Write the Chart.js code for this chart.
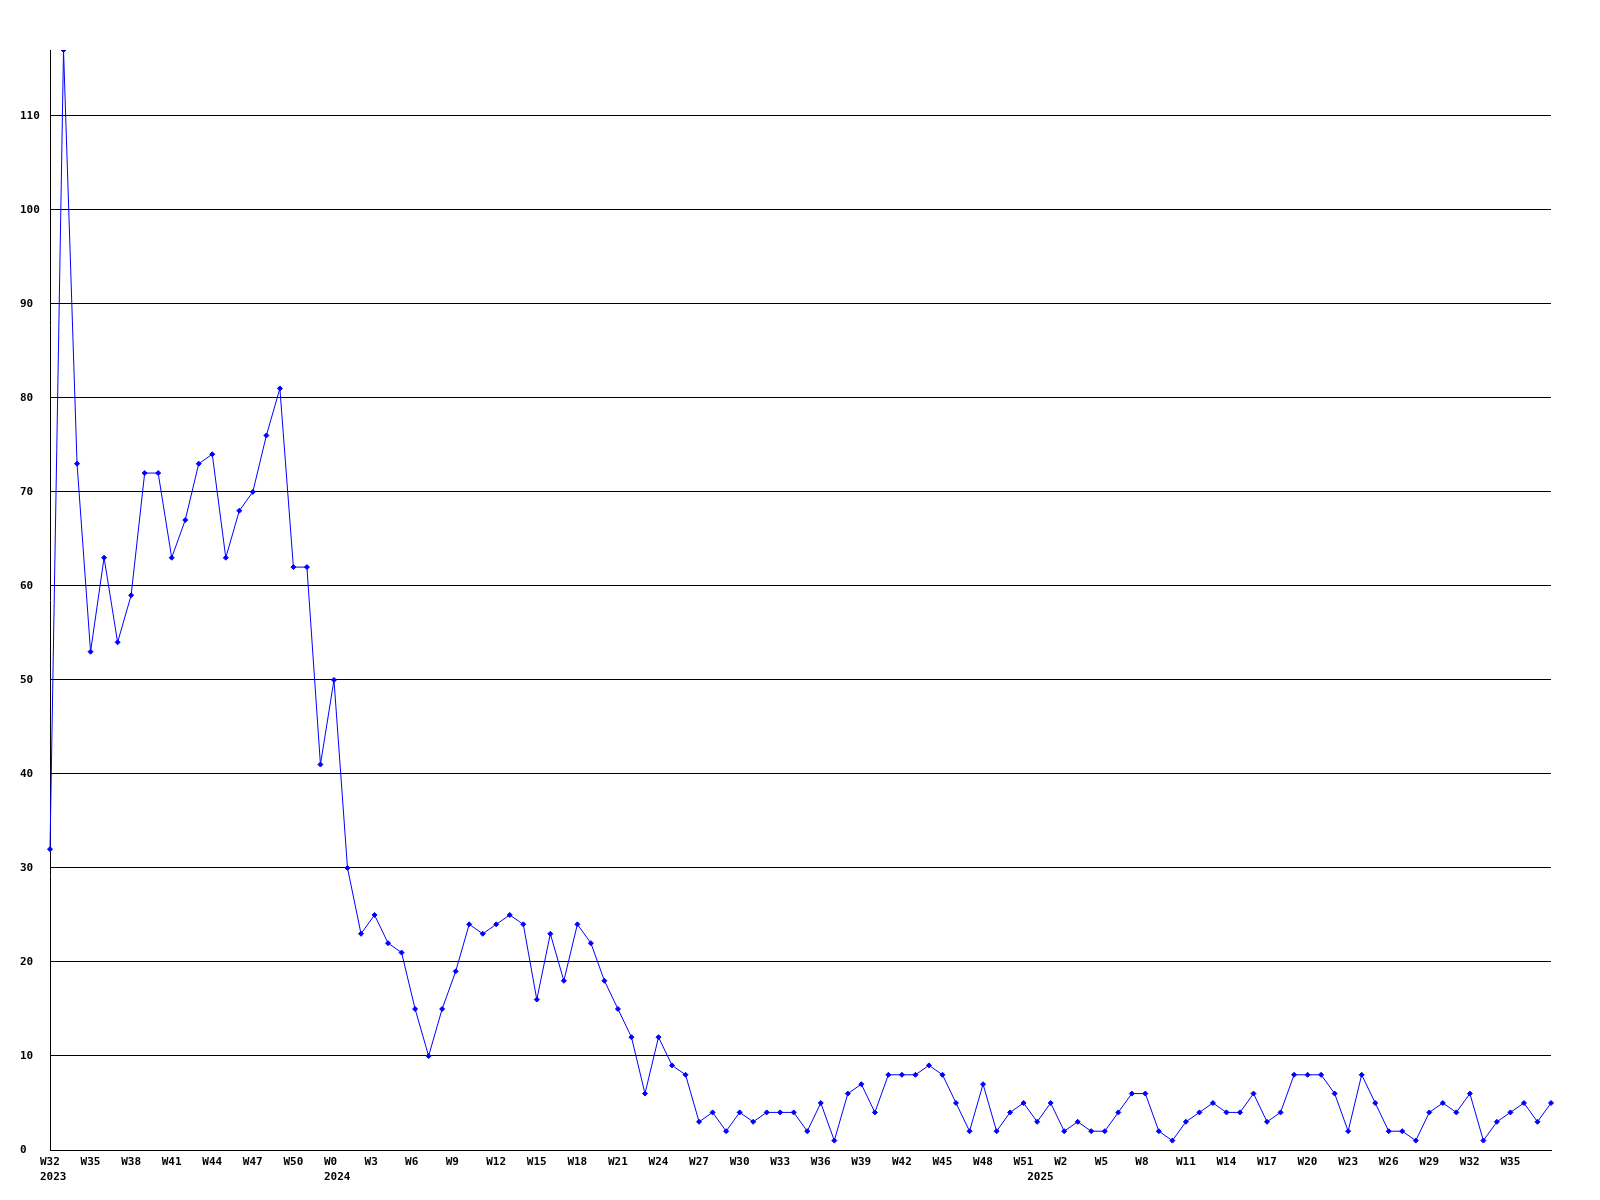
<!DOCTYPE html>
<html>
<head>
<meta charset="utf-8">
<script src="https://cdn.jsdelivr.net/npm/chart.js@4.4.1/dist/chart.umd.min.js"></script>
<style>
  html, body { margin: 0; padding: 0; background: #fff; }
  canvas { display: block; }
</style>
</head>
<body>
<canvas id="myChart" width="1600" height="1200"></canvas>
<script>
// year, first week, last week shown on the axis
const yearSpans = [[2023, 32, 52], [2024, 0, 51], [2025, 0, 38]];

// weekly counts, one value per week
const counts2023 = [32, 117, 73, 53, 63, 54, 59, 72, 72, 63, 67, 73, 74, 63, 68, 70, 76, 81, 62, 62, 41];
const counts2024 = [50, 30, 23, 25, 22, 21, 15, 10, 15, 19, 24, 23, 24, 25, 24, 16, 23, 18, 24, 22,
                    18, 15, 12, 6, 12, 9, 8, 3, 4, 2, 4, 3, 4, 4, 4, 2, 5, 1, 6, 7,
                    4, 8, 8, 8, 9, 8, 5, 2, 7, 2, 4, 5];
const counts2025 = [3, 5, 2, 3, 2, 2, 4, 6, 6, 2, 1, 3, 4, 5, 4, 4, 6, 3, 4, 8,
                    8, 8, 6, 2, 8, 5, 2, 2, 1, 4, 5, 4, 6, 1, 3, 4, 5, 3, 5];

const yTickStep = 10;

// build the week labels and remember where each year starts
const weekLabels = [];
const yearStarts = {};
yearSpans.forEach(([year, first, last]) => {
    yearStarts[weekLabels.length] = String(year);
    for (let w = first; w <= last; w++) weekLabels.push('W' + w);
});
const counts = counts2023.concat(counts2024, counts2025);

const tickFont = { family: '"DejaVu Sans Mono", monospace', size: 11, weight: 'bold', lineHeight: 1.36 };

const ctx = document.getElementById('myChart').getContext('2d');
const chart = new Chart(ctx, {
    type: 'line',
    data: {
        labels: weekLabels,
        datasets: [{
            data: counts,
            borderColor: '#0000ff',
            backgroundColor: '#0000ff',
            borderWidth: 1,
            tension: 0,
            pointStyle: 'rectRot',
            pointRadius: 2.5,
            pointBorderWidth: 1,
            pointHoverRadius: 2.5
        }]
    },
    options: {
        responsive: false,
        animation: false,
        layout: { padding: { left: 20, top: 50, right: 49, bottom: 0 } },
        plugins: {
            legend: { display: false },
            tooltip: { enabled: false }
        },
        scales: {
            x: {
                grid: { display: false, drawTicks: false },
                border: { display: true, color: '#000', width: 1 },
                afterFit: (scale) => { scale.height = 50; },
                ticks: {
                    autoSkip: false,
                    maxRotation: 0,
                    minRotation: 0,
                    align: 'start',
                    labelOffset: -10,
                    padding: 5,
                    color: '#000',
                    font: tickFont,
                    callback: (value, index) => {
                        const week = (index % 3 === 0 && index < weekLabels.length - 1) ? weekLabels[index] : '';
                        if (yearStarts[index]) return [week, yearStarts[index]];
                        return week;
                    }
                }
            },
            y: {
                min: 0,
                max: Math.max(...counts),
                grid: { color: '#000', lineWidth: 1, drawTicks: false },
                border: { display: true, color: '#000', width: 1 },
                afterBuildTicks: (axis) => {
                    axis.ticks = axis.ticks.filter(t => t.value % yTickStep === 0);
                },
                afterFit: (scale) => { scale.width = 30; },
                ticks: {
                    stepSize: yTickStep,
                    crossAlign: 'far',
                    padding: 9,
                    color: '#000',
                    font: tickFont
                }
            }
        }
    }
});
</script>
</body>
</html>
